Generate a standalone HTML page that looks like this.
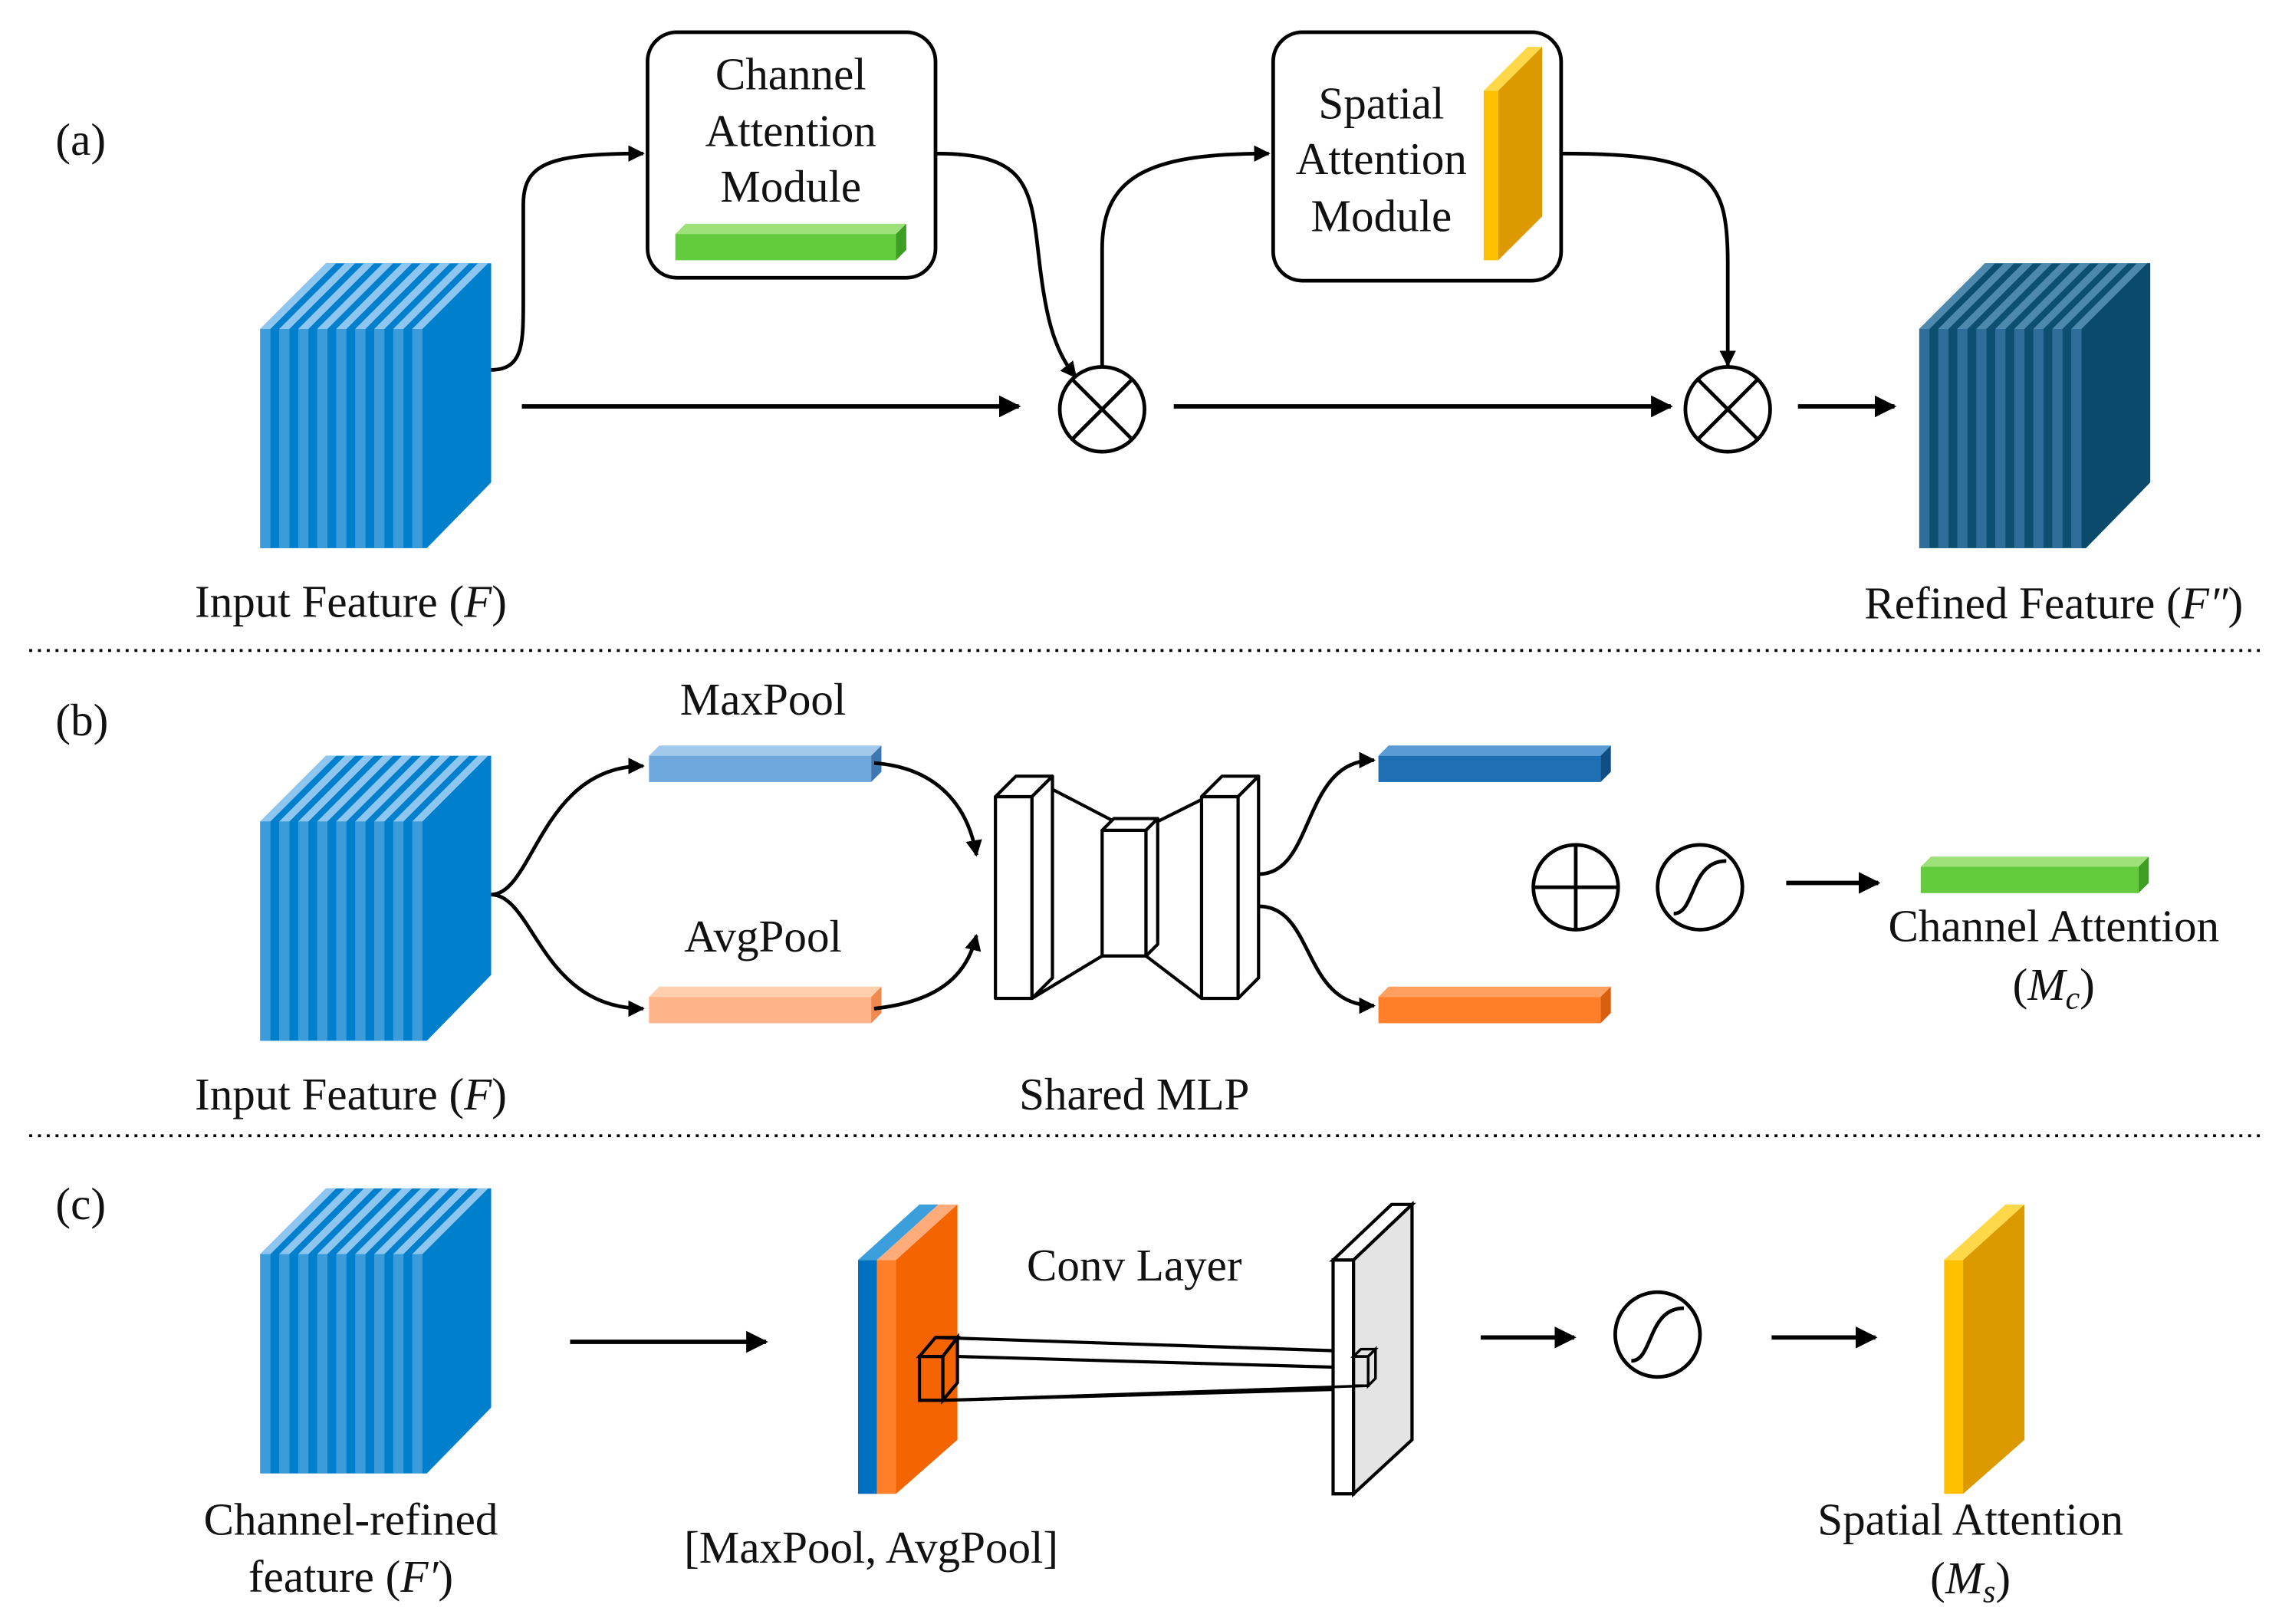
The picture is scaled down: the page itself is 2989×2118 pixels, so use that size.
<!DOCTYPE html>
<html><head><meta charset="utf-8"><style>
html,body{margin:0;padding:0;background:#fff;}
svg{display:block;}
text{font-family:"Liberation Serif",serif;font-size:31px;fill:#111;}
</style></head><body>
<svg width="2989" height="2118" viewBox="0 0 1568 1111" xmlns="http://www.w3.org/2000/svg">
<defs>
<marker id="ah" viewBox="0 0 10 10" refX="9" refY="5" markerWidth="5" markerHeight="5" orient="auto" markerUnits="strokeWidth">
<path d="M0,0 L10,5 L0,10 z" fill="#000"/></marker>
<marker id="ah2" viewBox="0 0 10 10" refX="9" refY="5" markerWidth="4.5" markerHeight="4.5" orient="auto" markerUnits="strokeWidth">
<path d="M0,0 L10,5 L0,10 z" fill="#000"/></marker>
<g id="cube">
<polygon points="0,0 45,-45 158,-45 158,105 114,150 0,150" fill="#0080cc"/>
<g fill="#3c9cda">
<rect x="0" y="0" width="7" height="150"/><rect x="13" y="0" width="7" height="150"/><rect x="26" y="0" width="7" height="150"/>
<rect x="39" y="0" width="7" height="150"/><rect x="52" y="0" width="7" height="150"/><rect x="65" y="0" width="7" height="150"/>
<rect x="78" y="0" width="7" height="150"/><rect x="91" y="0" width="7" height="150"/><rect x="104" y="0" width="7" height="150"/>
</g>
<g fill="#8ec6f0">
<polygon points="0,0 7,0 52,-45 45,-45"/><polygon points="13,0 20,0 65,-45 58,-45"/><polygon points="26,0 33,0 78,-45 71,-45"/>
<polygon points="39,0 46,0 91,-45 84,-45"/><polygon points="52,0 59,0 104,-45 97,-45"/><polygon points="65,0 72,0 117,-45 110,-45"/>
<polygon points="78,0 85,0 130,-45 123,-45"/><polygon points="91,0 98,0 143,-45 136,-45"/><polygon points="104,0 111,0 156,-45 149,-45"/>
</g>
</g>
<g id="cube2">
<polygon points="0,0 45,-45 158,-45 158,105 114,150 0,150" fill="#0d4f70"/>
<polygon points="111,0 156,-45 158,-45 158,105 114,150 111,150" fill="#0a4a6a"/>
<g fill="#2f6e98">
<rect x="0" y="0" width="7" height="150"/><rect x="13" y="0" width="7" height="150"/><rect x="26" y="0" width="7" height="150"/>
<rect x="39" y="0" width="7" height="150"/><rect x="52" y="0" width="7" height="150"/><rect x="65" y="0" width="7" height="150"/>
<rect x="78" y="0" width="7" height="150"/><rect x="91" y="0" width="7" height="150"/><rect x="104" y="0" width="7" height="150"/>
</g>
<g fill="#4d88ad">
<polygon points="0,0 7,0 52,-45 45,-45"/><polygon points="13,0 20,0 65,-45 58,-45"/><polygon points="26,0 33,0 78,-45 71,-45"/>
<polygon points="39,0 46,0 91,-45 84,-45"/><polygon points="52,0 59,0 104,-45 97,-45"/><polygon points="65,0 72,0 117,-45 110,-45"/>
<polygon points="78,0 85,0 130,-45 123,-45"/><polygon points="91,0 98,0 143,-45 136,-45"/><polygon points="104,0 111,0 156,-45 149,-45"/>
</g>
</g>
</defs>

<!-- (a) -->
<text x="38" y="106">(a)</text>
<use href="#cube" x="178" y="225"/>
<use href="#cube2" x="1313" y="225"/>
<rect x="443" y="22" width="197" height="168" rx="20" fill="#fff" stroke="#000" stroke-width="2.5"/>
<text x="541" y="61" text-anchor="middle">Channel</text>
<text x="541" y="100" text-anchor="middle">Attention</text>
<text x="541" y="138" text-anchor="middle">Module</text>
<rect x="462" y="160" width="151" height="18" fill="#62cc3c"/>
<polygon points="462,160 469,153 620,153 613,160" fill="#9ee07a"/>
<polygon points="613,160 620,153 620,171 613,178" fill="#3c9e22"/>
<rect x="871" y="22" width="197" height="170" rx="20" fill="#fff" stroke="#000" stroke-width="2.5"/>
<text x="945" y="81" text-anchor="middle">Spatial</text>
<text x="945" y="119" text-anchor="middle">Attention</text>
<text x="945" y="158" text-anchor="middle">Module</text>
<polygon points="1015,62 1025,62 1025,178 1015,178" fill="#ffc000"/>
<polygon points="1015,62 1045,32 1055,32 1025,62" fill="#ffd84a"/>
<polygon points="1025,62 1055,32 1055,148 1025,178" fill="#dc9a00"/>

<g fill="none" stroke="#000" stroke-width="2.5">
<path d="M336,253 C358,253 358,235 358,205 L358,140 C358,112 375,105 440,105" marker-end="url(#ah2)"/>
<path d="M640,105 C700,105 705,125 710,170 C715,215 720,238 736,258" marker-end="url(#ah2)"/>
<path d="M754,251 L754,170 C754,118 790,105 868,105" marker-end="url(#ah2)"/>
<path d="M1068,105 C1170,105 1182,120 1182,180 L1182,250" marker-end="url(#ah2)"/>
<path d="M357,278 L697,278" stroke-width="3" marker-end="url(#ah)"/>
<path d="M803,278 L1143,278" stroke-width="3" marker-end="url(#ah)"/>
<path d="M1230,278 L1296,278" stroke-width="3" marker-end="url(#ah)"/>
<circle cx="754" cy="280" r="29"/><path d="M733.5,259.5 L774.5,300.5 M774.5,259.5 L733.5,300.5"/>
<circle cx="1182" cy="280" r="29"/><path d="M1161.5,259.5 L1202.5,300.5 M1202.5,259.5 L1161.5,300.5"/>
</g>
<text x="240" y="422" text-anchor="middle">Input Feature (<tspan font-style="italic">F</tspan>)</text>
<text x="1405" y="423" text-anchor="middle">Refined Feature (<tspan font-style="italic">F″</tspan>)</text>
<line x1="20" y1="445" x2="1550" y2="445" stroke="#000" stroke-width="2" stroke-dasharray="2,4"/>

<!-- (b) -->
<text x="38" y="503">(b)</text>
<use href="#cube" x="178" y="562"/>
<text x="522" y="489" text-anchor="middle">MaxPool</text>
<rect x="444" y="517" width="152" height="18" fill="#6fa8dc"/>
<polygon points="444,517 451,510 603,510 596,517" fill="#a2c8ec"/>
<polygon points="596,517 603,510 603,528 596,535" fill="#3f78b0"/>
<text x="522" y="651" text-anchor="middle">AvgPool</text>
<rect x="444" y="682" width="152" height="18" fill="#ffb389"/>
<polygon points="444,682 451,675 603,675 596,682" fill="#ffcfae"/>
<polygon points="596,682 603,675 603,693 596,700" fill="#f08850"/>
<g fill="none" stroke="#000" stroke-width="2.5">
<path d="M336,612 C365,612 370,524 440,524" marker-end="url(#ah2)"/>
<path d="M336,612 C365,612 370,690 440,690" marker-end="url(#ah2)"/>
<path d="M598,522 C640,525 662,550 668,585" marker-end="url(#ah2)"/>
<path d="M598,690 C645,685 662,665 668,640" marker-end="url(#ah2)"/>
</g>
<!-- MLP -->
<g fill="#fff" stroke="#000" stroke-width="2.2" stroke-linejoin="round">
<path d="M720,540 L770,566 M706,683 L754,654 M792,562 L836,540 M784,654 L822,683" fill="none"/>
<rect x="681" y="545" width="25" height="138"/>
<polygon points="681,545 695,531 720,531 706,545"/>
<polygon points="706,545 720,531 720,669 706,683"/>
<rect x="754" y="568" width="30" height="86"/>
<polygon points="754,568 762,560 792,560 784,568"/>
<polygon points="784,568 792,560 792,646 784,654"/>
<rect x="822" y="545" width="25" height="138"/>
<polygon points="822,545 836,531 861,531 847,545"/>
<polygon points="847,545 861,531 861,669 847,683"/>
</g>
<g fill="none" stroke="#000" stroke-width="2.5">
<path d="M861,598 C900,598 890,520 940,520" marker-end="url(#ah2)"/>
<path d="M861,620 C900,620 890,688 940,688" marker-end="url(#ah2)"/>
</g>
<rect x="943" y="517" width="152" height="18" fill="#1f6fb5"/>
<polygon points="943,517 950,510 1102,510 1095,517" fill="#5b9bd5"/>
<polygon points="1095,517 1102,510 1102,528 1095,535" fill="#0f4d85"/>
<rect x="943" y="682" width="152" height="18" fill="#ff7f2a"/>
<polygon points="943,682 950,675 1102,675 1095,682" fill="#ffa060"/>
<polygon points="1095,682 1102,675 1102,693 1095,700" fill="#d85f10"/>
<g fill="none" stroke="#000" stroke-width="2.5">
<circle cx="1078" cy="607" r="29"/><path d="M1049,607 L1107,607 M1078,578 L1078,636"/>
<circle cx="1163" cy="607" r="29"/><path d="M1145,625 C1160,625 1156,589 1181,589"/>
<path d="M1222,604 L1285,604" stroke-width="3" marker-end="url(#ah)"/>
</g>
<rect x="1314" y="593" width="149" height="18" fill="#62cc3c"/>
<polygon points="1314,593 1321,586 1470,586 1463,593" fill="#9ee07a"/>
<polygon points="1463,593 1470,586 1470,604 1463,611" fill="#3c9e22"/>
<text x="1405" y="644" text-anchor="middle">Channel Attention</text>
<text x="1405" y="684" text-anchor="middle">(<tspan font-style="italic">M</tspan><tspan font-style="italic" font-size="22" dy="6">c</tspan><tspan dy="-6">)</tspan></text>
<text x="240" y="759" text-anchor="middle">Input Feature (<tspan font-style="italic">F</tspan>)</text>
<text x="776" y="759" text-anchor="middle">Shared MLP</text>
<line x1="20" y1="777" x2="1550" y2="777" stroke="#000" stroke-width="2" stroke-dasharray="2,4"/>

<!-- (c) -->
<text x="38" y="834">(c)</text>
<use href="#cube" x="178" y="858"/>
<path d="M390,918 L524,918" stroke="#000" stroke-width="3" marker-end="url(#ah)"/>
<rect x="587" y="862" width="13" height="160" fill="#0070c0"/>
<rect x="600" y="862" width="13" height="160" fill="#ff7f2a"/>
<polygon points="587,862 600,862 642,824 629,824" fill="#3c9fdc"/>
<polygon points="600,862 613,862 655,824 642,824" fill="#ffab7a"/>
<polygon points="613,862 655,824 655,985 613,1022" fill="#f46400"/>
<g fill="none" stroke="#000" stroke-width="2.2">
<path d="M640,915 L941,925 M645,958 L932,950 M655,928 L936,936"/>
<rect x="629" y="928" width="16" height="30"/>
<polygon points="629,928 640,915 655,915 645,928"/>
<polygon points="645,928 655,915 655,946 645,958"/>
</g>
<polygon points="912,862 926,862 926,1022 912,1022" fill="#fff" stroke="#000" stroke-width="2.2"/>
<polygon points="912,862 952,824 966,824 926,862" fill="#fff" stroke="#000" stroke-width="2.2"/>
<polygon points="926,862 966,824 966,985 926,1022" fill="#e4e4e4" stroke="#000" stroke-width="2.2"/>
<g fill="none" stroke="#000" stroke-width="1.8">
<rect x="926" y="928" width="10" height="20"/>
<polygon points="926,928 931,923 941,923 936,928"/>
<polygon points="936,928 941,923 941,943 936,948"/>
<path d="M645,958 L936,948"/>
</g>
<text x="776" y="876" text-anchor="middle">Conv Layer</text>
<g fill="none" stroke="#000" stroke-width="2.5">
<path d="M1013,915 L1077,915" stroke-width="3" marker-end="url(#ah)"/>
<circle cx="1134" cy="913" r="29"/><path d="M1116,931 C1131,931 1127,895 1152,895"/>
<path d="M1212,915 L1283,915" stroke-width="3" marker-end="url(#ah)"/>
</g>
<polygon points="1330,862 1343,862 1343,1022 1330,1022" fill="#ffc000"/>
<polygon points="1330,862 1372,824 1385,824 1343,862" fill="#ffd84a"/>
<polygon points="1343,862 1385,824 1385,985 1343,1022" fill="#dc9a00"/>
<text x="240" y="1050" text-anchor="middle">Channel-refined</text>
<text x="240" y="1089" text-anchor="middle">feature (<tspan font-style="italic">F′</tspan>)</text>
<text x="596" y="1069" text-anchor="middle">[MaxPool, AvgPool]</text>
<text x="1348" y="1050" text-anchor="middle">Spatial Attention</text>
<text x="1348" y="1090" text-anchor="middle">(<tspan font-style="italic">M</tspan><tspan font-style="italic" font-size="22" dy="6">s</tspan><tspan dy="-6">)</tspan></text>
</svg>
</body></html>
